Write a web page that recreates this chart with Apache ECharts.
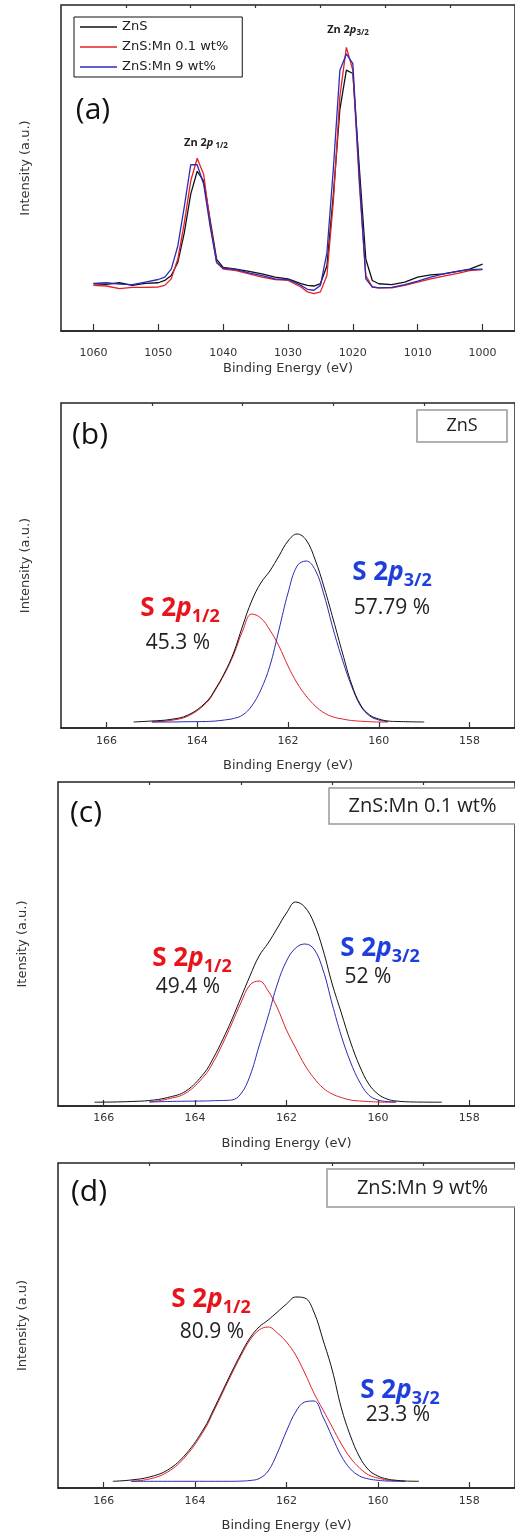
<!DOCTYPE html>
<html>
<head>
<meta charset="utf-8">
<script src="https://cdn.jsdelivr.net/npm/echarts@6/dist/echarts.min.js"></script>
<style>
  html, body { margin: 0; padding: 0; background: #fff; }
  #chart { width: 515px; height: 1535px; }
</style>
</head>
<body>
<div id="chart"></div>
<script>
// (a) Zn 2p region, three samples
const aEnergy = [1060, 1058, 1056, 1054, 1052, 1050, 1049, 1048, 1047, 1046, 1045, 1044, 1043, 1042, 1041, 1040,
  1038, 1036, 1034, 1032, 1030, 1028, 1027, 1026, 1025, 1024, 1023, 1022, 1021, 1020, 1019, 1018, 1017, 1016,
  1014, 1012, 1010, 1008, 1006, 1004, 1002, 1000]
const aZnS = [14.5, 14.3, 14.8, 14.0, 14.6, 14.8, 15.5, 17, 21, 30, 42, 49, 46, 34, 22, 19.5,
  19, 18.3, 17.5, 16.5, 16, 14.5, 14, 13.8, 14.5, 20, 42, 68, 80, 79, 50, 22, 15.5, 14.5,
  14.2, 15, 16.5, 17.2, 17.5, 18.2, 19, 20.5]
const aMn01 = [14, 13.8, 13, 13.4, 13.4, 13.5, 14, 16, 22, 33, 46, 53, 48, 33, 21, 19,
  18.5, 17.5, 16.5, 15.8, 15.5, 13.5, 12, 11.5, 12, 17, 40, 72, 87, 80, 45, 17, 13.5, 13.2,
  13.2, 14, 15, 16, 16.8, 17.6, 18.5, 18.8]
const aMn9 = [14.6, 14.8, 14.4, 14.2, 15, 15.8, 16.5, 19, 26, 38, 51, 51, 45, 32, 21, 19.3,
  18.8, 17.8, 17, 16, 15.8, 14, 12.8, 12.5, 14, 24, 50, 80, 85, 82, 47, 16, 13.5, 13.2,
  13.4, 14.2, 15.3, 16.5, 17.5, 18.3, 18.8, 19]

// (b) ZnS, S 2p fit
const bEnergy = [165.4, 165.0, 164.6, 164.2, 163.8, 163.6, 163.4, 163.2, 163.0, 162.8, 162.6, 162.4, 162.2, 162.0,
  161.8, 161.6, 161.4, 161.2, 161.0, 160.8, 160.6, 160.4, 160.2, 160.0, 159.8, 159.6, 159.0]
const bTotal = [6, 7, 8.5, 13, 26, 39, 55, 75, 102, 127, 145, 157, 172, 187,
  194, 188, 168, 140, 108, 75, 44, 23, 13, 9, 7, 6.5, 6]
const bS12 = [null, 6, 7.5, 12, 25, 38, 54, 73, 97, 114, 110, 98, 82, 62,
  45, 32, 22, 15, 11, 9, 7.5, 6.8, 6.3, 6, 6, null, null]
const bS32 = [null, 6, 6, 6.3, 6.5, 7, 8, 9.5, 13, 22, 38, 62, 98, 135,
  162, 167, 158, 132, 98, 68, 42, 22, 12, 8, 6.5, null, null]

// (c) ZnS:Mn 0.1 wt%
const cEnergy = [166.2, 165.8, 165.4, 165.0, 164.6, 164.2, 163.8, 163.6, 163.4, 163.2, 163.0, 162.8, 162.6, 162.4,
  162.2, 162.0, 161.8, 161.6, 161.4, 161.2, 161.0, 160.8, 160.6, 160.4, 160.2, 160.0, 159.8, 159.6, 159.2, 158.6]
const cTotal = [3.8, 4, 4.5, 5.5, 8.5, 15, 33, 48, 66, 86, 108, 130, 150, 163,
  178, 193, 204, 199, 183, 156, 122, 93, 64, 40, 22, 12, 7, 5, 4, 3.8]
const cS12 = [null, null, null, 4, 7, 13, 30, 44, 62, 82, 103, 121, 125, 115,
  98, 76, 58, 41, 28, 18, 12, 8.5, 6, 5, 4.5, 4, 3.8, 3.8, null, null]
const cS32 = [null, null, null, 4, 4.5, 4.8, 5, 5.3, 5.5, 6, 12, 30, 60, 90,
  122, 145, 158, 162, 157, 136, 102, 70, 44, 24, 11, 6, 4.5, 4, null, null]

// (d) ZnS:Mn 9 wt%
const dEnergy = [165.8, 165.4, 165.0, 164.6, 164.2, 163.8, 163.6, 163.4, 163.2, 163.0, 162.8, 162.6, 162.4, 162.2,
  162.0, 161.8, 161.6, 161.4, 161.2, 161.0, 160.8, 160.6, 160.4, 160.2, 160.0, 159.8, 159.6, 159.4, 159.1]
const dTotal = [6.7, 8, 11, 18, 34, 60, 78, 97, 116, 134, 150, 161, 168, 176,
  184, 191, 190, 176, 148, 118, 80, 52, 31, 18, 12, 9, 7.7, 7, 6.7]
const dS12 = [null, 6.7, 9, 16, 32, 58, 76, 95, 114, 132, 148, 158, 161, 155,
  146, 133, 115, 95, 78, 61, 44, 30, 20, 13, 10, 8, 7.2, 6.7, null]
const dS32 = [null, 6.7, 6.7, 6.7, 6.7, 6.7, 6.7, 6.7, 6.7, 6.9, 7.5, 9.4, 17, 35,
  57, 76, 86, 87, 71, 51, 32, 19, 12, 9, 7.7, 7, 6.8, 6.7, null]

const aTicks = [1060, 1050, 1040, 1030, 1020, 1010, 1000]
const aMinorTicks = [1055, 1045, 1035, 1025, 1015, 1005]
const sTicks = [166, 164, 162, 160, 158]
const sMinorTicks = [165, 163, 161, 159]

const RED = '#e3202a'
const BLUE = '#2b2bb8'
const LABEL_RED = '#e8141c'
const LABEL_BLUE = '#1f3fdc'

const panels = [
  { left: 61, top: 5, width: 456, height: 326, min: 995, max: 1065, yMax: 100, labelMargin: 17,
    ticks: aTicks, minor: aMinorTicks, yName: 'Intensity (a.u.)', tickLen: 7 },
  { left: 61, top: 403, width: 455, height: 325, min: 157, max: 167, yMax: 325, labelMargin: 8,
    ticks: sTicks, minor: sMinorTicks, yName: 'Intensity (a.u.)', tickLen: 6 },
  { left: 58, top: 782, width: 460, height: 324, min: 157, max: 167, yMax: 324, labelMargin: 7,
    ticks: sTicks, minor: sMinorTicks, yName: 'Itensity (a.u.)', tickLen: 6 },
  { left: 58, top: 1163, width: 460, height: 325, min: 157, max: 167, yMax: 325, labelMargin: 8,
    ticks: sTicks, minor: sMinorTicks, yName: 'Intensity (a.u)', tickLen: 6 }
]

function pairs(xs, ys) {
  return xs.map((x, i) => [x, ys[i]])
}

const grid = []
const xAxis = []
const yAxis = []
panels.forEach((p, i) => {
  grid.push({
    left: p.left, top: p.top, width: p.width, height: p.height,
    show: true, borderColor: '#222', borderWidth: 1.5
  })
  xAxis.push({
    gridIndex: i, type: 'value', inverse: true, min: p.min, max: p.max,
    axisLine: { show: true, lineStyle: { color: '#222', width: 1.5 } },
    axisTick: { show: true, inside: true, length: p.tickLen, customValues: p.ticks,
      lineStyle: { color: '#333', width: 1.2 } },
    axisLabel: { customValues: p.ticks, margin: p.labelMargin, color: '#333',
      fontFamily: 'DejaVu Sans', fontSize: 11, formatter: v => String(v) },
    splitLine: { show: false },
    name: 'Binding Energy (eV)', nameLocation: 'middle', nameGap: 31,
    nameTextStyle: { color: '#333', fontFamily: 'DejaVu Sans', fontSize: 13 }
  })
  xAxis.push({
    gridIndex: i, type: 'value', inverse: true, min: p.min, max: p.max,
    axisLine: { show: false },
    axisTick: { show: true, inside: true, length: 3, customValues: p.minor,
      lineStyle: { color: '#333', width: 1.2 } },
    axisLabel: { show: false },
    splitLine: { show: false }
  })
  yAxis.push({
    gridIndex: i, type: 'value', min: 0, max: p.yMax,
    axisLine: { show: false }, axisTick: { show: false }, axisLabel: { show: false },
    splitLine: { show: false },
    name: p.yName, nameLocation: 'middle', nameGap: 29,
    nameTextStyle: { color: '#333', fontFamily: 'DejaVu Sans', fontSize: 13 }
  })
})

function line(name, panel, xs, ys, color, smooth, width) {
  return {
    name: name, type: 'line', xAxisIndex: panel * 2, yAxisIndex: panel,
    data: pairs(xs, ys), symbol: 'none', smooth: smooth, connectNulls: false,
    lineStyle: { color: color, width: width }, itemStyle: { color: color },
    silent: true, animation: false
  }
}

const series = [
  line('ZnS', 0, aEnergy, aZnS, '#111', false, 1.3),
  line('ZnS:Mn 0.1 wt%', 0, aEnergy, aMn01, RED, false, 1.3),
  line('ZnS:Mn 9 wt%', 0, aEnergy, aMn9, BLUE, false, 1.3),
  line('b S2p1/2', 1, bEnergy, bS12, RED, 0.4, 1),
  line('b S2p3/2', 1, bEnergy, bS32, BLUE, 0.4, 1),
  line('b total', 1, bEnergy, bTotal, '#111', 0.4, 1),
  line('c S2p1/2', 2, cEnergy, cS12, RED, 0.4, 1),
  line('c S2p3/2', 2, cEnergy, cS32, BLUE, 0.4, 1),
  line('c total', 2, cEnergy, cTotal, '#111', 0.4, 1),
  line('d S2p1/2', 3, dEnergy, dS12, RED, 0.4, 1),
  line('d S2p3/2', 3, dEnergy, dS32, BLUE, 0.4, 1),
  line('d total', 3, dEnergy, dTotal, '#111', 0.4, 1)
]

// text helpers for the annotations
function txt(x, y, text, size, extra) {
  return {
    type: 'text', x: x, y: y, z: 100,
    style: Object.assign({
      text: text, fill: '#222', fontFamily: 'Open Sans', fontSize: size,
      align: 'center', verticalAlign: 'middle'
    }, extra || {})
  }
}

function peak(x, y, head, sub, color, big, small) {
  return txt(x, y, '{m|' + head + '}{i|p}{s|' + sub + '}', big, {
    fill: color,
    rich: {
      m: { fontFamily: 'Open Sans', fontWeight: 'bold', fontSize: big, lineHeight: big * 1.3, verticalAlign: 'middle' },
      i: { fontFamily: 'Open Sans', fontWeight: 'bold', fontStyle: 'italic', fontSize: big, lineHeight: big * 1.3, verticalAlign: 'middle' },
      s: { fontFamily: 'Open Sans', fontWeight: 'bold', fontSize: small, lineHeight: small * 0.9, verticalAlign: 'bottom' }
    }
  })
}

function sampleBox(x1, y1, x2, y2, text, size) {
  return [
    { type: 'rect', z: 90, shape: { x: x1, y: y1, width: x2 - x1, height: y2 - y1 },
      style: { fill: '#fff', stroke: '#999', lineWidth: 1.5 } },
    txt((x1 + x2) / 2, (y1 + y2) / 2, text, size, { fill: '#222' })
  ]
}

const graphic = [
  txt(93, 110, '(a)', 30, { fill: '#111' }),
  peak(348, 30, 'Zn 2', '3/2', '#222', 11, 8),
  peak(206, 143, 'Zn 2', ' 1/2', '#222', 11, 8),

  txt(90, 435, '(b)', 30, { fill: '#111' }),
  ...sampleBox(417, 410, 507, 442, 'ZnS', 18),
  peak(180, 609, 'S 2', '1/2', LABEL_RED, 26, 18),
  txt(178, 643, '45.3 %', 21),
  peak(392, 573, 'S 2', '3/2', LABEL_BLUE, 26, 18),
  txt(392, 608, '57.79 %', 21),

  txt(86, 813, '(c)', 30, { fill: '#111' }),
  ...sampleBox(329, 788, 516, 824, 'ZnS:Mn 0.1 wt%', 20),
  peak(192, 959, 'S 2', '1/2', LABEL_RED, 26, 18),
  txt(188, 987, '49.4 %', 21),
  peak(380, 949, 'S 2', '3/2', LABEL_BLUE, 26, 18),
  txt(368, 977, '52 %', 21),

  txt(89, 1192, '(d)', 30, { fill: '#111' }),
  ...sampleBox(327, 1169, 518, 1207, 'ZnS:Mn 9 wt%', 20),
  peak(211, 1300, 'S 2', '1/2', LABEL_RED, 26, 18),
  txt(212, 1332, '80.9 %', 21),
  peak(400, 1391, 'S 2', '3/2', LABEL_BLUE, 26, 18),
  txt(398, 1415, '23.3 %', 21)
]

const chart = echarts.init(document.getElementById('chart'), null, { renderer: 'canvas' })
chart.setOption({
  animation: false,
  backgroundColor: '#fff',
  grid: grid,
  xAxis: xAxis,
  yAxis: yAxis,
  legend: {
    data: ['ZnS', 'ZnS:Mn 0.1 wt%', 'ZnS:Mn 9 wt%'],
    orient: 'vertical', left: 74, top: 17,
    icon: 'rect', itemWidth: 37, itemHeight: 1.5, itemGap: 6,
    padding: [3, 14, 3, 6],
    borderColor: '#111', borderWidth: 1, backgroundColor: '#fff',
    selectedMode: false,
    textStyle: { color: '#222', fontFamily: 'DejaVu Sans', fontSize: 13, lineHeight: 14 }
  },
  series: series,
  graphic: graphic
})
</script>
</body>
</html>
